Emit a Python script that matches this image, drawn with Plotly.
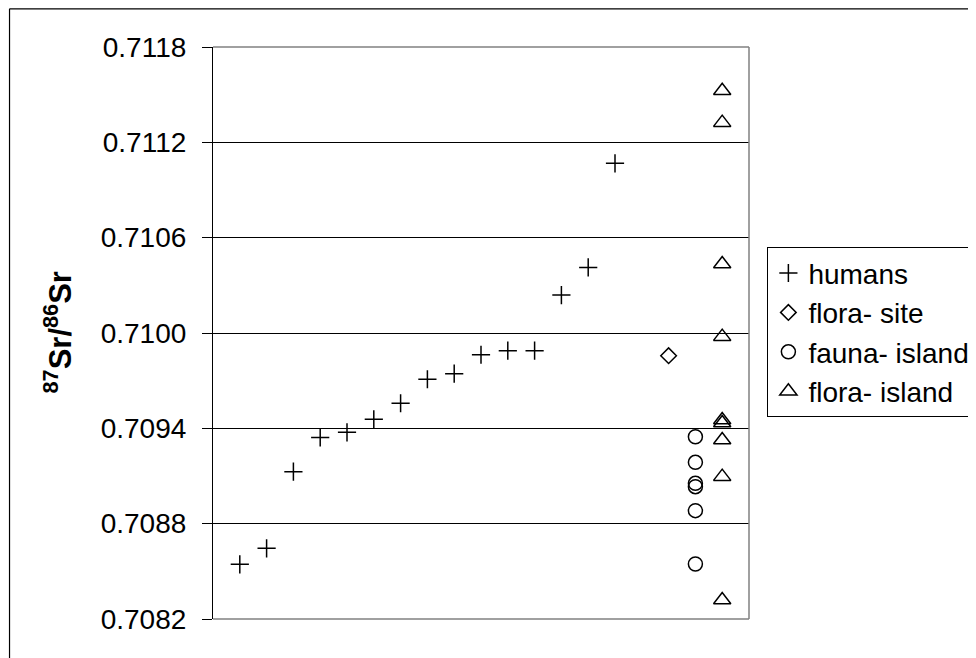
import plotly.graph_objects as go

# ---- data ----
humans_x = list(range(1, 16))
humans_y = [0.708544, 0.708645, 0.709127, 0.709343, 0.709375, 0.709457, 0.709558,
            0.709709, 0.709744, 0.709863, 0.709889, 0.709889, 0.710239, 0.710413, 0.711068]

flora_site_x = [17]
flora_site_y = [0.709857]

fauna_island_x = [18, 18, 18, 18, 18, 18]
fauna_island_y = [0.709347, 0.709186, 0.709054, 0.709033, 0.708882, 0.708546]

flora_island_x = [19, 19, 19, 19, 19, 19, 19, 19, 19]
flora_island_y = [0.711525, 0.711324, 0.710434, 0.709977, 0.709452, 0.709434,
                  0.709327, 0.709096, 0.708320]

y_ticks = [0.7082, 0.7088, 0.7094, 0.7100, 0.7106, 0.7112, 0.7118]
y_tick_labels = ["0.7082", "0.7088", "0.7094", "0.7100", "0.7106", "0.7112", "0.7118"]

FONT = "Liberation Sans, Arial, sans-serif"
OFF = 8  # page body margin of the browser
W, H = 976 - OFF, 658 - OFF
ML, MT = 212.7 - OFF, 47 - OFF
PW, PH = 536.6, 572
MR = W - ML - PW
MB = H - MT - PH

fig = go.Figure()
fig.add_trace(go.Scatter(x=humans_x, y=humans_y, mode="markers", name="humans",
                         marker=dict(symbol="cross-thin", size=13, color="black",
                                     line=dict(color="black", width=1.5))))
fig.add_trace(go.Scatter(x=flora_site_x, y=flora_site_y, mode="markers", name="flora- site",
                         marker=dict(symbol="diamond-open", size=12, color="black",
                                     line=dict(color="black", width=1.5))))
fig.add_trace(go.Scatter(x=fauna_island_x, y=fauna_island_y, mode="markers", name="fauna- island",
                         marker=dict(symbol="circle-open", size=14, color="black",
                                     line=dict(color="black", width=1.5))))
fig.add_trace(go.Scatter(x=flora_island_x, y=flora_island_y, mode="markers", name="flora- island",
                         marker=dict(symbol="triangle-up-open", size=15, color="black",
                                     line=dict(color="black", width=1.5))))

# helpers: screen pixel -> paper coordinate
def px_x(p):
    return (p - OFF - ML) / PW

def px_y(p):
    return (MT + PH - (p - OFF)) / PH

shapes = [
    # plot-area border (grey) top, right, bottom
    dict(type="line", xref="paper", yref="paper", x0=0, x1=1, y0=1, y1=1,
         line=dict(color="#808080", width=1.5), layer="above"),
    dict(type="line", xref="paper", yref="paper", x0=1, x1=1, y0=0, y1=1,
         line=dict(color="#808080", width=1.5), layer="above"),
    dict(type="line", xref="paper", yref="paper", x0=0, x1=1, y0=0, y1=0,
         line=dict(color="#808080", width=1.5), layer="above"),
    # outer chart frame (left and top)
    dict(type="line", xref="paper", yref="paper", x0=px_x(9), x1=px_x(9),
         y0=px_y(670), y1=px_y(8.8), line=dict(color="black", width=1.2)),
    dict(type="line", xref="paper", yref="paper", x0=px_x(9), x1=px_x(990),
         y0=px_y(8.8), y1=px_y(8.8), line=dict(color="black", width=1.2)),
]

fig.update_layout(
    width=W, height=H,
    margin=dict(l=ML, r=MR, t=MT, b=MB, pad=0, autoexpand=False),
    paper_bgcolor="white", plot_bgcolor="white",
    font=dict(family=FONT, color="black", size=28),
    showlegend=True,
    legend=dict(x=px_x(767.7), y=px_y(247.3), xanchor="left", yanchor="top",
                bordercolor="black", borderwidth=1, bgcolor="white",
                font=dict(family=FONT, size=28, color="black"),
                itemsizing="trace", tracegroupgap=0),
    xaxis=dict(range=[0, 20], showgrid=False, zeroline=False, showticklabels=False,
               ticks="", showline=False, fixedrange=True),
    yaxis=dict(range=[0.7082, 0.7118], tickvals=y_ticks, ticktext=y_tick_labels,
               showgrid=True, gridcolor="black", gridwidth=1, zeroline=False,
               showline=True, linecolor="black", linewidth=1.2,
               ticks="outside", ticklen=10, tickcolor="black", tickwidth=1.2,
               ticklabelstandoff=10,
               tickfont=dict(family=FONT, size=28, color="black")),
    shapes=shapes,
    annotations=[dict(text="<sup>87</sup>Sr/<sup>86</sup>Sr", xref="paper", yref="paper",
                      x=px_x(58), y=px_y(332), xanchor="center", yanchor="middle",
                      textangle=-90, showarrow=False,
                      font=dict(family=FONT, size=31, color="black", weight="bold"))],
)

fig.write_html("out.html")
